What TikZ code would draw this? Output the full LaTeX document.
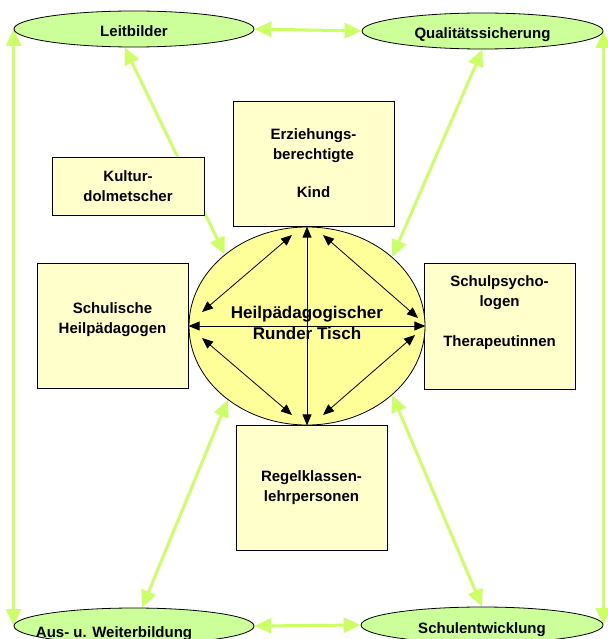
\documentclass[tikz,border=0pt]{standalone}
\usepackage{fontspec}
\setmainfont{Liberation Sans}
\usepackage{tikz}
\usetikzlibrary{shapes.geometric}
\usetikzlibrary{arrows.meta}
\usetikzlibrary{backgrounds}
\definecolor{linkgreen}{HTML}{CCFF66}
\definecolor{ovalgreen}{HTML}{CCFF99}
\definecolor{boxyellow}{HTML}{FFFFCC}
\definecolor{tischyellow}{HTML}{FFFF99}
\tikzset{
  themen/.style={draw, ellipse, fill=ovalgreen, line width=0.8pt, minimum width=240pt, minimum height=36pt, inner sep=0pt, text height=16pt, text depth=0pt, font=\fontsize{15}{18}\selectfont\bfseries},
  person/.style={draw, fill=boxyellow, line width=0.8pt, inner sep=0pt, align=center, font=\fontsize{15}{20}\selectfont\bfseries},
  link/.style={draw=linkgreen, line width=3pt, {Triangle[length=17pt,width=15pt]}-{Triangle[length=17pt,width=15pt]}},
  talk/.style={line width=0.8pt, {Triangle[length=11pt,width=9pt]}-{Triangle[length=11pt,width=9pt]}},
}

\begin{document}
\begin{tikzpicture}[x=1pt,y=-1pt]
    \useasboundingbox (0,0) rectangle (607,639);
    \clip (0,0) rectangle (607,639);

    \node[themen] (leit) at (134,29) {Leitbilder};
    \node[themen, minimum width=241pt] (quali) at (482.5,31) {Qualitätssicherung};
    \node[themen] (aus) at (134,626) {};
    \node[anchor=base, font=\fontsize{15}{18}\selectfont\bfseries] (ausText) at (114,637) {Aus- u. Weiterbildung};
    \node[themen, minimum width=242pt] (schul) at (482,625) {Schulentwicklung};

    \node[person, minimum width=161pt, minimum height=125pt] (eltern) at (313.5,163.5) {Erziehungs-\\berechtigte\\[18pt]Kind};
    \node[person, minimum width=152pt, minimum height=58pt] (kultur) at (128,186) {Kultur-\\dolmetscher};
    \node[person, minimum width=151pt, minimum height=125pt, text depth=15pt] (heil) at (112.5,325.5) {Schulische\\Heilpädagogen};
    \node[person, minimum width=151pt, minimum height=126pt, text depth=29pt] (psy) at (499.5,326) {Schulpsycho-\\logen\\[20pt]Therapeutinnen};
    \node[person, minimum width=151pt, minimum height=125pt] (regel) at (311.5,487.5) {Regelklassen-\\lehrpersonen};

    \node[draw, ellipse, fill=tischyellow, line width=0.8pt, minimum width=236pt, minimum height=198pt, inner sep=0pt, align=center, text depth=6pt, font=\fontsize{17}{21}\selectfont\bfseries] (tisch) at (307,326) {Heilpädagogischer\\Runder Tisch};

    % arrows inside the round table
    \coordinate (nwA) at (202,312);
    \coordinate (nwB) at (292,235);
    \coordinate (neA) at (323,235);
    \coordinate (neB) at (418,318);
    \coordinate (swA) at (202,338);
    \coordinate (swB) at (292,415);
    \coordinate (seA) at (323,415);
    \coordinate (seB) at (415,335);
    \draw[talk] (tisch.north) -- (tisch.south);
    \draw[talk] (tisch.west) -- (tisch.east);
    \draw[talk] (nwA) -- (nwB);
    \draw[talk] (neA) -- (neB);
    \draw[talk] (swA) -- (swB);
    \draw[talk] (seA) -- (seB);

    % green links, behind the boxes
    \begin{pgfonlayer}{background}
      \draw[link] (leit.east) -- (quali.west);
      \draw[link] (aus.east) -- (schul.west);
      \draw[link] (leit.west) -- (aus.west);
      \draw[link] (quali.east) -- (schul.east);
      \draw[link] (leit.243) -- (tisch.139);
      \draw[link] (quali.south) -- (tisch.39);
      \draw[link] (tisch.223) -- (aus.66);
      \draw[link] (tisch.321) -- (schul.north);
    \end{pgfonlayer}
\end{tikzpicture}
\end{document}
